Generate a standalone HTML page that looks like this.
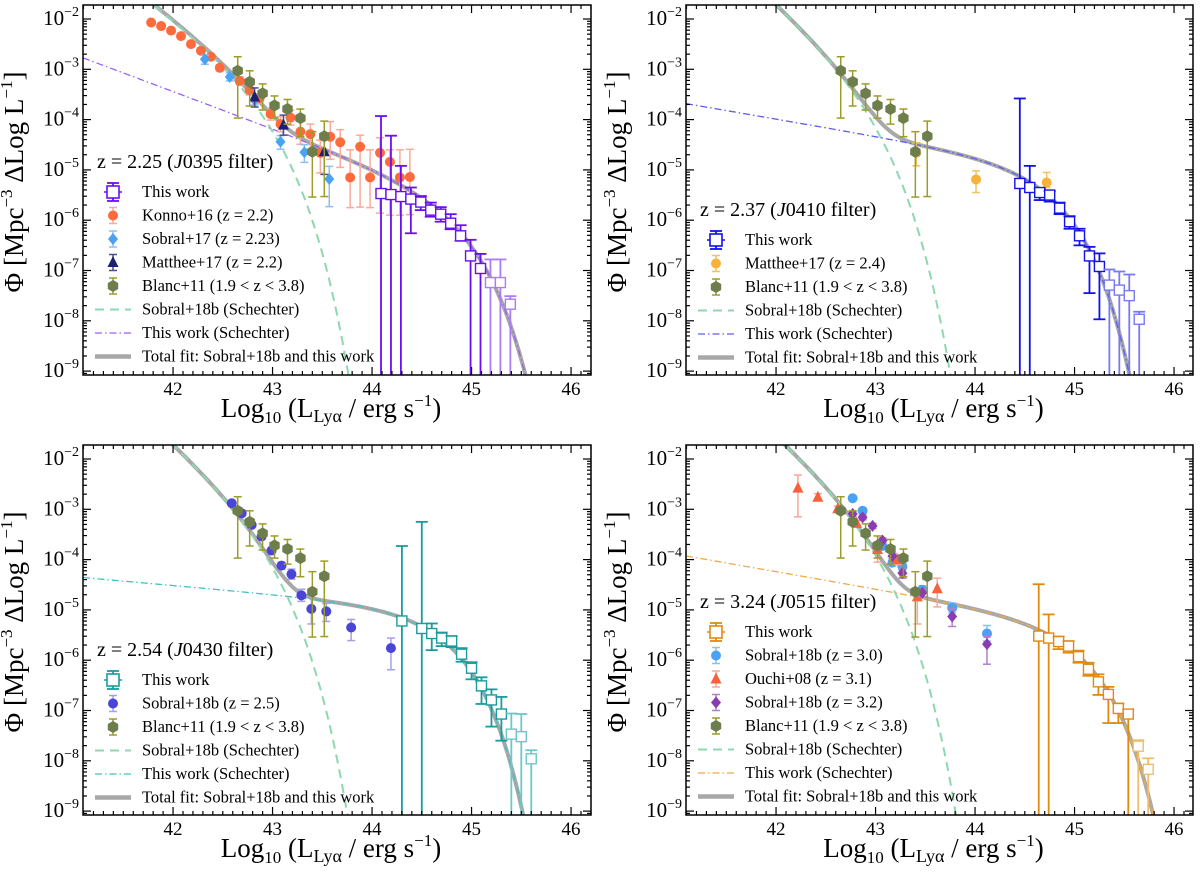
<!DOCTYPE html>
<html><head><meta charset="utf-8"><style>
html,body{margin:0;padding:0;background:#fff;width:1200px;height:876px;overflow:hidden}
svg{display:block;font-family:"Liberation Serif",serif;overflow:hidden}
</style></head><body>
<svg id="c" width="1200" height="876" viewBox="0 0 1200 876" xmlns="http://www.w3.org/2000/svg"></svg>
<script>
// ---------- data (log10 L, log10 Phi, errors in dex) ----------
const p1WorkX=[44.09,44.19,44.29,44.39,44.49,44.59,44.69,44.79,44.89,44.99,45.09,45.19,45.29,45.39];
const p1WorkY=[-5.47,-5.49,-5.53,-5.58,-5.64,-5.80,-5.88,-6.06,-6.31,-6.71,-6.96,-7.24,-7.24,-7.67];
const p1WorkHi=[1.54,1.17,0.61,0.23,0.12,0.15,0.14,0.18,0.21,0.32,0.29,0.46,0.46,0.16];
const p1WorkLo=[6,6,6,0.68,0.16,0.13,0.15,0.12,0.10,6,6,6,6,6];
const konnoX=[41.78,41.88,41.98,42.08,42.18,42.28,42.38,42.47,42.67,42.77,42.87,42.98,43.08,43.18,43.28,43.38,43.48,43.58,43.68,43.78,43.88,43.98,44.08,44.18,44.28,44.38];
const konnoY=[-2.07,-2.14,-2.23,-2.34,-2.50,-2.63,-2.75,-2.97,-3.23,-3.41,-3.58,-3.89,-4.09,-3.96,-4.24,-4.29,-4.66,-4.34,-4.45,-5.15,-4.54,-5.15,-4.66,-4.84,-5.15,-5.14];
const konnoHi=[0.04,0.04,0.04,0.04,0.05,0.05,0.05,0.06,0.08,0.1,0.1,0.12,0.15,0.15,0.2,0.2,0.25,0.3,0.25,0.55,0.23,0.55,0.3,0.24,0.55,0.55];
const konnoLo=[0.04,0.04,0.04,0.04,0.05,0.05,0.05,0.06,0.08,0.1,0.1,0.12,0.15,0.15,0.25,0.3,0.4,0.45,0.5,0.6,1.2,0.6,1.2,1.06,0.75,0.75];
const sob17X=[42.32,42.57,42.82,43.08,43.32,43.57];
const sob17Y=[-2.80,-3.15,-3.61,-4.44,-4.65,-5.18];
const sob17Hi=[0.08,0.08,0.1,0.12,0.15,0.25];
const sob17Lo=[0.1,0.08,0.1,0.15,0.2,0.55];
const mat17X=[42.82,43.11,43.52];
const mat17Y=[-3.55,-4.11,-4.64];
const mat17Hi=[0.18,0.2,0.3];
const mat17Lo=[0.2,0.2,0.45];
const blancX=[42.65,42.77,42.90,43.02,43.15,43.28,43.40,43.52];
const blancY=[-3.03,-3.25,-3.48,-3.72,-3.79,-3.97,-4.64,-4.33];
const blancHi=[0.28,0.22,0.19,0.19,0.19,0.18,0.4,0.3];
const blancLo=[0.94,0.48,0.33,0.25,0.3,0.37,0.9,1.2];
const p2WorkX=[44.45,44.55,44.65,44.75,44.85,44.95,45.05,45.15,45.25,45.35,45.45,45.55,45.65];
const p2WorkY=[-5.27,-5.35,-5.45,-5.50,-5.76,-6.03,-6.31,-6.71,-6.92,-7.29,-7.39,-7.50,-7.97];
const p2WorkHi=[1.69,0.43,0.08,0.08,0.11,0.11,0.14,0.18,0.26,0.31,0.37,0.42,0.15];
const p2WorkLo=[6,6,0.15,0.13,0.12,0.14,0.19,0.74,1.05,6,6,6,6];
const mat24X=[43.41,44.01,44.72];
const mat24Y=[-4.66,-5.19,-5.25];
const mat24Hi=[0.2,0.17,0.2];
const mat24Lo=[0.26,0.26,0.1];
const p3WorkX=[44.30,44.50,44.60,44.70,44.80,44.90,45.00,45.10,45.20,45.30,45.40,45.50,45.60];
const p3WorkY=[-5.22,-5.37,-5.47,-5.56,-5.62,-5.88,-6.16,-6.51,-6.79,-7.07,-7.47,-7.52,-7.96];
const p3WorkHi=[1.49,2.12,0.2,0.11,0.1,0.12,0.12,0.17,0.21,0.34,0.41,0.45,0.17];
const p3WorkLo=[6,6,0.33,0.16,0.12,0.15,0.22,0.36,0.53,0.53,6,6,6];
const sob25X=[42.59,42.69,42.79,42.89,42.99,43.09,43.19,43.29,43.39,43.54,43.79,44.19];
const sob25Y=[-2.88,-3.08,-3.31,-3.54,-3.82,-4.12,-4.29,-4.71,-4.98,-5.03,-5.35,-5.76];
const sob25Hi=[0.05,0.05,0.05,0.05,0.06,0.07,0.1,0.12,0.27,0.16,0.16,0.2];
const sob25Lo=[0.05,0.05,0.05,0.05,0.06,0.07,0.1,0.12,0.3,0.2,0.26,0.43];
const p4WorkX=[44.64,44.74,44.84,44.94,45.04,45.14,45.24,45.34,45.44,45.54,45.64,45.74];
const p4WorkY=[-5.52,-5.56,-5.63,-5.72,-5.93,-6.18,-6.43,-6.68,-6.96,-7.07,-7.71,-8.17];
const p4WorkHi=[1.03,0.47,0.1,0.1,0.12,0.13,0.15,0.15,0.1,0.09,0.12,0.22];
const p4WorkLo=[6,6,0.15,0.13,0.12,0.13,0.26,0.57,0.29,6,6,6];
const sob30X=[42.77,42.87,43.07,43.17,43.27,43.47,43.77,44.12];
const sob30Y=[-2.78,-3.03,-3.73,-4.06,-4.14,-4.60,-4.96,-5.47];
const sob30Hi=[0.05,0.05,0.05,0.06,0.07,0.08,0.1,0.16];
const sob30Lo=[0.05,0.05,0.05,0.06,0.07,0.08,0.1,0.15];
const ouchiX=[42.22,42.42,42.62,42.81,43.02,43.22,43.42,43.62];
const ouchiY=[-2.58,-2.76,-2.99,-3.28,-3.80,-4.00,-4.74,-4.58];
const ouchiHi=[0.26,0.07,0.05,0.05,0.1,0.1,0.1,0.21];
const ouchiLo=[0.57,0.07,0.05,0.05,0.25,0.1,0.54,0.36];
const sob32X=[42.77,42.87,42.97,43.07,43.17,43.27,43.47,43.77,44.12];
const sob32Y=[-3.09,-3.16,-3.33,-3.62,-3.93,-4.27,-4.66,-5.13,-5.68];
const sob32Hi=[0.05,0.05,0.05,0.05,0.06,0.1,0.08,0.15,0.15];
const sob32Lo=[0.05,0.05,0.05,0.05,0.06,0.1,0.08,0.2,0.4];
const p1SobralFit=[-3.09,42.75,-1.5], p1WorkFit=[-5.44,44.7,-0.74];
const p2SobralFit=[-2.955,42.75,-1.75], p2WorkFit=[-4.874,44.6,-0.34];
const p3SobralFit=[-2.955,42.75,-1.75], p3WorkFit=[-4.963,44.56,-0.175];
const p4SobralFit=[-2.88,42.8,-1.75], p4WorkFit=[-5.233,44.88,-0.345];
const xTicks=[42,43,44,45,46];
const yTicks=[-2,-3,-4,-5,-6,-7,-8,-9];

const NS="http://www.w3.org/2000/svg";
const svg=document.getElementById('c');
function mk(tag,attrs,parent){const e=document.createElementNS(NS,tag);for(const k in attrs)e.setAttribute(k,attrs[k]);(parent||svg).appendChild(e);return e;}
function sch(p,x){const r=Math.pow(10,x-p[1]);return p[0]+p[2]*(x-p[1])-r/Math.LN10;}

const panels=[
 {L:83,T:5,R:591,B:375,work:'#6a10f0',workLight:'#ab7cf5',dd:'#9a62f2',light:3,sob:p1SobralFit,wf:p1WorkFit,
  wx:p1WorkX,wy:p1WorkY,wh:p1WorkHi,wl:p1WorkLo,title:['z = 2.25 (','J','0395 filter)'],ty:168,
  series:[['konno','circle','#ff6a3c','#f9aa9c',konnoX,konnoY,konnoHi,konnoLo,'Konno+16 (z = 2.2)'],
          ['sobral17','diamond','#4aa2f2','#8cc0f0',sob17X,sob17Y,sob17Hi,sob17Lo,'Sobral+17 (z = 2.23)'],
          ['matthee17','triangle','#1c2070','#4a4e90',mat17X,mat17Y,mat17Hi,mat17Lo,'Matthee+17 (z = 2.2)'],
          ['blanc11','hexagon','#6d7d4c','#9c9c2c',blancX,blancY,blancHi,blancLo,'Blanc+11 (1.9 < z < 3.8)']]},
 {L:686,T:5,R:1193,B:375,work:'#1212e6',workLight:'#7a7af0',dd:'#5c5cf0',light:4,sob:p2SobralFit,wf:p2WorkFit,
  wx:p2WorkX,wy:p2WorkY,wh:p2WorkHi,wl:p2WorkLo,title:['z = 2.37 (','J','0410 filter)'],ty:216,
  series:[['matthee24','circle','#f8b23a','#f5c060',mat24X,mat24Y,mat24Hi,mat24Lo,'Matthee+17 (z = 2.4)'],
          ['blanc11','hexagon','#6d7d4c','#9c9c2c',blancX,blancY,blancHi,blancLo,'Blanc+11 (1.9 < z < 3.8)']]},
 {L:83,T:445,R:591,B:815,work:'#1a9c9c',workLight:'#6cc8c8',dd:'#40c4c4',light:3,sob:p3SobralFit,wf:p3WorkFit,
  wx:p3WorkX,wy:p3WorkY,wh:p3WorkHi,wl:p3WorkLo,title:['z = 2.54 (','J','0430 filter)'],ty:656,
  series:[['sobral25','circle','#4a44d8','#a4a0ea',sob25X,sob25Y,sob25Hi,sob25Lo,'Sobral+18b (z = 2.5)'],
          ['blanc11','hexagon','#6d7d4c','#9c9c2c',blancX,blancY,blancHi,blancLo,'Blanc+11 (1.9 < z < 3.8)']]},
 {L:686,T:445,R:1193,B:815,work:'#e08a10',workLight:'#f2bc70',dd:'#f0a848',light:2,sob:p4SobralFit,wf:p4WorkFit,
  wx:p4WorkX,wy:p4WorkY,wh:p4WorkHi,wl:p4WorkLo,title:['z = 3.24 (','J','0515 filter)'],ty:608,
  series:[['sobral30','circle','#4aa2f2','#8cc0f0',sob30X,sob30Y,sob30Hi,sob30Lo,'Sobral+18b (z = 3.0)'],
          ['ouchi08','triangle','#f8603e','#f8a898',ouchiX,ouchiY,ouchiHi,ouchiLo,'Ouchi+08 (z = 3.1)'],
          ['sobral32','diamond','#8a3cb0','#b080c8',sob32X,sob32Y,sob32Hi,sob32Lo,'Sobral+18b (z = 3.2)'],
          ['blanc11','hexagon','#6d7d4c','#9c9c2c',blancX,blancY,blancHi,blancLo,'Blanc+11 (1.9 < z < 3.8)']]}
];

function marker(g,type,cx,cy,fill,name){
 let e;
 if(type==='circle') e=mk('circle',{cx:cx,cy:cy,r:5,fill:fill},g);
 else if(type==='diamond') e=mk('polygon',{points:`${cx},${cy-6} ${cx+5},${cy} ${cx},${cy+6} ${cx-5},${cy}`,fill:fill},g);
 else if(type==='triangle') e=mk('polygon',{points:`${cx},${cy-6.5} ${cx+5.5},${cy+4.5} ${cx-5.5},${cy+4.5}`,fill:fill},g);
 else { let pts=[];for(let k=0;k<6;k++){const a=Math.PI/6+k*Math.PI/3;pts.push((cx+6*Math.cos(a)).toFixed(1)+','+(cy+6*Math.sin(a)).toFixed(1));}
   e=mk('polygon',{points:pts.join(' '),fill:fill},g);}
 
 
 return e;
}
function errbar(g,x,y1,y2,col,cap,w){
 mk('line',{x1:x,y1:y1,x2:x,y2:y2,stroke:col,'stroke-width':w||1.5},g);
 mk('line',{x1:x-cap,y1:y1,x2:x+cap,y2:y1,stroke:col,'stroke-width':w||1.5},g);
 mk('line',{x1:x-cap,y1:y2,x2:x+cap,y2:y2,stroke:col,'stroke-width':w||1.5},g);
}

panels.forEach((P,pi)=>{
 const X=v=>P.L+(v-41.095)*99.5;
 const Y0=v=>P.T+14+(-2-v)*50.3;
 const Y=v=>Math.max(P.T-8,Math.min(P.B+8,Y0(v)));
 const g=mk('g',{});
 
 
 const cid='clip'+pi;
 const cp=mk('clipPath',{id:cid},g);mk('rect',{x:P.L,y:P.T,width:P.R-P.L,height:P.B-P.T},cp);
 const plot=mk('g',{'clip-path':`url(#${cid})`},g);
 
 
 let ds='',dw='',dt='';
 for(let x=41.095;x<=46.2;x+=0.01){
  const a=sch(P.sob,x),b=sch(P.wf,x),t=Math.log10(Math.pow(10,a)+Math.pow(10,b));
  const c=(x<41.1?'M':'L');
  ds+=c+X(x).toFixed(1)+','+Y(a).toFixed(1);
  dw+=c+X(x).toFixed(1)+','+Y(b).toFixed(1);
  dt+=c+X(x).toFixed(1)+','+Y(t).toFixed(1);
 }
 const lt=mk('path',{d:dt,fill:'none',stroke:'#a8a8a8','stroke-width':4},plot);
 
 
 const lsb=mk('path',{d:ds,fill:'none',stroke:'#8ed8b0','stroke-width':2,'stroke-dasharray':'9,6'},plot);
 
 
 const lw=mk('path',{d:dw,fill:'none',stroke:P.dd,'stroke-width':1.3,'stroke-dasharray':'7,3,1.5,3'},plot);
 
 
 P.series.forEach(s=>{
  const sg=mk('g',{},plot);
  
  
  s[4].forEach((x,i)=>{
   const cx=X(x),cy=Y(s[5][i]);
   errbar(sg,cx,Y(s[5][i]+s[6][i]),Y(s[5][i]-s[7][i]),s[3],4,1.5);
   marker(sg,s[1],cx,cy,s[2],s[0]+'-point');
  });
 });
 const wg=mk('g',{},plot);
 
 
 const n=P.wx.length;
 P.wx.forEach((x,i)=>{
  const col=(i>=n-P.light)?P.workLight:P.work;
  const cx=X(x),cy=Y(P.wy[i]);
  errbar(wg,cx,Y(P.wy[i]+P.wh[i]),Y(P.wy[i]-P.wl[i]),col,6,1.8);
  mk('line',{x1:X(x-0.05),y1:cy,x2:X(x+0.05),y2:cy,stroke:col,'stroke-width':1.5},wg);
  const r=mk('rect',{x:cx-5,y:cy-5,width:10,height:10,fill:'#fff',stroke:col,'stroke-width':1.4},wg);
  
  
 });
 const ax=mk('g',{stroke:'#000','stroke-width':1.2},g);
 
 
 mk('rect',{x:P.L,y:P.T,width:P.R-P.L,height:P.B-P.T,fill:'none','stroke-width':1.5},ax);
 for(let k=411;k<=462;k++){const v=k/10,px=X(v);if(px<P.L||px>P.R)continue;const L=(k%10===0)?8:4;
  mk('line',{x1:px,y1:P.B,x2:px,y2:P.B-L},ax);mk('line',{x1:px,y1:P.T,x2:px,y2:P.T+L},ax);}
 for(let d=-1;d>=-10;d--){for(let m=1;m<10;m++){const v=d+Math.log10(m),py=Y0(v);if(py<P.T||py>P.B)continue;const L=(m===1)?8:4;
  mk('line',{x1:P.L,y1:py,x2:P.L+L,y2:py},ax);mk('line',{x1:P.R,y1:py,x2:P.R-L,y2:py},ax);}}
 xTicks.forEach(v=>{const t=mk('text',{x:X(v),y:P.B+20,'font-size':19,'text-anchor':'middle'},g);t.textContent=v;
  
  });
 yTicks.forEach(v=>{const t=mk('text',{x:P.L-4,y:Y0(v)+6,'font-size':21,'text-anchor':'end'},g);
  
  
  const a=mk('tspan',{},t);a.textContent='10';const b=mk('tspan',{'font-size':14,dy:-9},t);b.textContent='\u2212'+(-v);});
 const xt=mk('text',{x:(P.L+P.R)/2-6,y:P.B+42,'font-size':27,'text-anchor':'middle'},g);
 
 
 xt.innerHTML='Log<tspan font-size="17" dy="6">10</tspan><tspan dy="-6"> (L</tspan><tspan font-size="18" dy="5">Ly\u03b1</tspan><tspan dy="-5"> / erg s</tspan><tspan font-size="17" dy="-11">\u22121</tspan><tspan dy="11">)</tspan>';
 const yc=(P.T+P.B)/2-8, yx=P.L-60;
 const yt=mk('text',{x:yx,y:yc,'font-size':27,'text-anchor':'middle',transform:`rotate(-90 ${yx} ${yc})`},g);
 
 
 yt.innerHTML='\u03a6  [Mpc<tspan font-size="17" dy="-11">\u22123</tspan><tspan dy="11"> \u0394Log L</tspan><tspan font-size="17" dy="-11">\u22121</tspan><tspan dy="11">]</tspan>';
 const lg=mk('g',{'font-size':16.5},g);
 
 
 const tt=mk('text',{x:P.L+14,y:P.ty,'font-size':20},lg);
 
 
 tt.innerHTML=P.title[0]+'<tspan font-style="italic">'+P.title[1]+'</tspan>'+P.title[2];
 let yy=P.ty+24;
 const mx=P.L+30, tx=P.L+59;
 function entry(label){const t=mk('text',{x:tx,y:yy+5},lg);t.textContent=label;
  
  }
 errbar(lg,mx,yy-9,yy+9,P.work,6,1.8);mk('rect',{x:mx-6,y:yy-6,width:12,height:12,fill:'#fff',stroke:P.work,'stroke-width':1.6},lg);
 mk('line',{x1:mx-9,y1:yy,x2:mx-6,y2:yy,stroke:P.work,'stroke-width':1.5},lg);mk('line',{x1:mx+6,y1:yy,x2:mx+9,y2:yy,stroke:P.work,'stroke-width':1.5},lg);
 entry('This work');yy+=23.5;
 P.series.forEach(s=>{errbar(lg,mx,yy-8,yy+8,s[3],4,1.5);marker(lg,s[1],mx,yy,s[2],'legend-marker');entry(s[8]);yy+=23.5;});
 mk('line',{x1:mx-18,y1:yy,x2:mx+18,y2:yy,stroke:'#8ed8b0','stroke-width':2,'stroke-dasharray':'9,6'},lg);entry('Sobral+18b (Schechter)');yy+=23.5;
 mk('line',{x1:mx-18,y1:yy,x2:mx+18,y2:yy,stroke:P.dd,'stroke-width':1.3,'stroke-dasharray':'7,3,1.5,3'},lg);entry('This work (Schechter)');yy+=23.5;
 mk('line',{x1:mx-18,y1:yy,x2:mx+18,y2:yy,stroke:'#a8a8a8','stroke-width':4.5},lg);entry('Total fit: Sobral+18b and this work');
});
</script>
</body></html>
